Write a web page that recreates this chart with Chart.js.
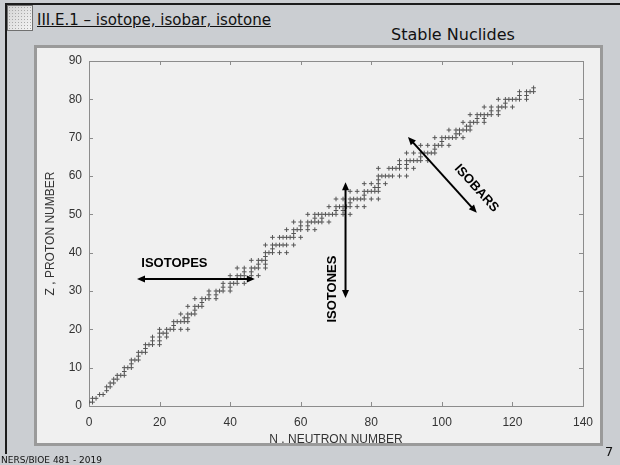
<!DOCTYPE html>
<html>
<head>
<meta charset="utf-8">
<title>Stable Nuclides</title>
<script src="https://cdn.jsdelivr.net/npm/chart.js@4"></script>
<style>
    body { margin: 0; width: 620px; height: 465px; background: #cbced2; position: relative; overflow: hidden; font-family: "DejaVu Sans", sans-serif; color: #111; }
    #frame { position: absolute; left: 5px; top: 3px; width: 620px; height: 449px; border-left: 2px solid #1c1c1c; border-top: 2px solid #1c1c1c; }
    #icon { position: absolute; left: 7px; top: 5px; width: 24px; height: 24px; border: 1px solid #707070;
        background: radial-gradient(circle, #a9a9a9 35%, transparent 45%) 0 0 / 3px 3px, linear-gradient(135deg, #d4d4d4, #f4f4f4); }
    #heading { position: absolute; left: 37px; top: 11px; font-size: 15px; text-decoration: underline; }
    #subtitle { position: absolute; left: 391px; top: 25px; font-size: 16px; }
    #panel { position: absolute; left: 34px; top: 45px; width: 569px; height: 401px; background: #f0f0f0; }
    #panelBorder { position: absolute; left: 34px; top: 45px; width: 563px; height: 395px; border: 3px solid #9a9a9a; }
    #chart { position: absolute; left: 0; top: 0; }
    #footer { position: absolute; left: 1px; top: 455px; font-size: 9px; }
    #pageNum { position: absolute; left: 605px; top: 444px; font-size: 13px; }
</style>
</head>
<body>
<div id="frame"></div>
<div id="icon"></div>
<div id="heading">III.E.1 – isotope, isobar, isotone</div>
<div id="subtitle">Stable Nuclides</div>
<div id="panel"></div>
<canvas id="chart" width="620" height="465"></canvas>
<div id="panelBorder"></div>
<div id="footer">NERS/BIOE 481 - 2019</div>
<div id="pageNum">7</div>
<script>
// Proton numbers that have stable nuclides (Tc and Pm have none)
const elementZ = [
    1, 2, 3, 4, 5, 6, 7, 8, 9, 10, 11, 12, 13, 14, 15, 16, 17, 18, 19, 20,
    21, 22, 23, 24, 25, 26, 27, 28, 29, 30, 31, 32, 33, 34, 35, 36, 37, 38, 39, 40,
    41, 42, 44, 45, 46, 47, 48, 49, 50, 51, 52, 53, 54, 55, 56, 57, 58, 59, 60,
    62, 63, 64, 65, 66, 67, 68, 69, 70, 71, 72, 73, 74, 75, 76, 77, 78, 79, 80,
    81, 82, 83
];

// Neutron numbers of the stable nuclides, one list per entry of elementZ
const stableNeutrons = [
    [0, 1], [1, 2], [3, 4], [5], [5, 6], [6, 7], [7, 8], [8, 9, 10], [10], [10, 11, 12],
    [12], [12, 13, 14], [14], [14, 15, 16], [16], [16, 17, 18, 20], [18, 20], [18, 20, 22],
    [20, 21, 22], [20, 22, 23, 24, 26, 28],
    [24], [24, 25, 26, 27, 28], [27, 28], [26, 28, 29, 30], [30], [28, 30, 31, 32], [32],
    [30, 32, 33, 34, 36], [34, 36], [34, 36, 37, 38, 40], [38, 40], [38, 40, 41, 42, 44], [42],
    [40, 42, 43, 44, 46, 48], [44, 46], [42, 44, 46, 47, 48, 50], [48, 50], [46, 48, 49, 50],
    [50], [50, 51, 52, 54, 56],
    [52], [50, 52, 53, 54, 55, 56, 58], [52, 54, 55, 56, 57, 58, 60], [58], [56, 58, 59, 60, 62, 64],
    [60, 62], [58, 60, 62, 63, 64, 65, 66, 68], [64, 66], [62, 64, 65, 66, 67, 68, 69, 70, 72, 74],
    [70, 72], [68, 70, 71, 72, 73, 74, 76, 78], [74], [70, 72, 74, 75, 76, 77, 78, 80, 82], [78],
    [74, 76, 78, 79, 80, 81, 82], [81, 82], [78, 80, 82, 84], [82], [82, 83, 84, 85, 86, 88, 90],
    [82, 85, 86, 87, 88, 90, 92], [88, 90], [88, 90, 91, 92, 93, 94, 96], [94], [90, 92, 94, 95, 96, 97, 98],
    [98], [94, 96, 98, 99, 100, 102], [100], [98, 100, 101, 102, 103, 104, 106], [104, 105],
    [102, 104, 105, 106, 107, 108], [107, 108], [106, 108, 109, 110, 112], [110, 112],
    [108, 110, 111, 112, 113, 114, 116], [114, 116], [112, 114, 116, 117, 118, 120], [118],
    [116, 118, 119, 120, 121, 122, 124],
    [122, 124], [122, 124, 125, 126], [126]
];

// Axis ticks
const neutronTicks = [0, 20, 40, 60, 80, 100, 120, 140];
const protonTicks = [0, 10, 20, 30, 40, 50, 60, 70, 80, 90];

// Arrow annotations, in (N, Z) data units
const arrowNames = ['ISOTOPES', 'ISOTONES', 'ISOBARS'];
const arrowFrom = [[13.6, 33.1], [72.7, 58.4], [90.4, 70.2]];
const arrowTo = [[47.0, 33.1], [72.7, 28.2], [109.9, 50.4]];
const arrowLabelAt = [[24.2, 37.2], [69.1, 30.5], [109.8, 56.8]];

const nuclides = elementZ.flatMap((z, i) => stableNeutrons[i].map(n => ({ x: n, y: z })));

const axisFont = { family: "'Liberation Sans', Arial, sans-serif", size: 12 };

function drawArrow(ctx, x1, y1, x2, y2) {
    const ang = Math.atan2(y2 - y1, x2 - x1);
    const head = 8, half = 3.5;
    ctx.beginPath();
    ctx.moveTo(x1 + Math.cos(ang) * head * 0.8, y1 + Math.sin(ang) * head * 0.8);
    ctx.lineTo(x2 - Math.cos(ang) * head * 0.8, y2 - Math.sin(ang) * head * 0.8);
    ctx.stroke();
    [[x2, y2, ang], [x1, y1, ang + Math.PI]].forEach(([px, py, a]) => {
        ctx.beginPath();
        ctx.moveTo(px, py);
        ctx.lineTo(px - Math.cos(a) * head - Math.sin(a) * half, py - Math.sin(a) * head + Math.cos(a) * half);
        ctx.lineTo(px - Math.cos(a) * head + Math.sin(a) * half, py - Math.sin(a) * head - Math.cos(a) * half);
        ctx.closePath();
        ctx.fill();
    });
}

const boxAndArrows = {
    id: 'boxAndArrows',
    beforeDatasetsDraw(chart) {
        const { ctx, chartArea: a, scales: { x, y } } = chart;
        ctx.save();
        ctx.strokeStyle = '#8c8c8c';
        ctx.lineWidth = 1;
        ctx.strokeRect(Math.round(a.left) + 0.5, Math.round(a.top) + 0.5,
            Math.round(a.right - a.left), Math.round(a.bottom - a.top));
        ctx.beginPath();
        x.ticks.forEach(t => {
            const px = Math.round(x.getPixelForValue(t.value)) + 0.5;
            ctx.moveTo(px, a.bottom); ctx.lineTo(px, a.bottom - 4);
            ctx.moveTo(px, a.top); ctx.lineTo(px, a.top + 4);
        });
        y.ticks.forEach(t => {
            const py = Math.round(y.getPixelForValue(t.value)) + 0.5;
            ctx.moveTo(a.left, py); ctx.lineTo(a.left + 4, py);
            ctx.moveTo(a.right, py); ctx.lineTo(a.right - 4, py);
        });
        ctx.stroke();
        ctx.restore();
    },
    afterDatasetsDraw(chart) {
        const { ctx, scales: { x, y } } = chart;
        ctx.save();
        ctx.strokeStyle = '#000';
        ctx.fillStyle = '#000';
        ctx.lineWidth = 2;
        arrowNames.forEach((name, i) => {
            const x1 = x.getPixelForValue(arrowFrom[i][0]), y1 = y.getPixelForValue(arrowFrom[i][1]);
            const x2 = x.getPixelForValue(arrowTo[i][0]), y2 = y.getPixelForValue(arrowTo[i][1]);
            drawArrow(ctx, x1, y1, x2, y2);

            // label: horizontal, vertical, or along the arrow
            let rot = 0;
            if (x1 === x2) rot = -Math.PI / 2;
            else if (y1 !== y2) rot = Math.atan2(y2 - y1, x2 - x1);
            ctx.save();
            ctx.translate(x.getPixelForValue(arrowLabelAt[i][0]), y.getPixelForValue(arrowLabelAt[i][1]));
            ctx.rotate(rot);
            ctx.font = "bold 13px 'Liberation Sans', Arial, sans-serif";
            ctx.textAlign = 'center';
            ctx.textBaseline = 'middle';
            ctx.fillText(name, 0, 0);
            ctx.restore();
        });
        ctx.restore();
    }
};

new Chart(document.getElementById('chart'), {
    type: 'scatter',
    data: {
        datasets: [{
            label: 'Stable nuclides',
            data: nuclides,
            pointStyle: 'cross',
            pointRadius: 2.3,
            borderColor: '#555',
            backgroundColor: '#555',
            borderWidth: 1
        }]
    },
    options: {
        responsive: false,
        animation: false,
        events: [],
        layout: { padding: { left: 39, right: 37, top: 61, bottom: 18 } },
        plugins: { legend: { display: false }, tooltip: { enabled: false } },
        scales: {
            x: {
                type: 'linear',
                min: neutronTicks[0],
                max: neutronTicks[neutronTicks.length - 1],
                afterBuildTicks: s => { s.ticks = neutronTicks.map(v => ({ value: v })); },
                afterFit: s => { s.height = 41; },
                grid: { display: false, drawTicks: false },
                border: { display: false },
                ticks: { padding: 9, color: '#333', font: axisFont, maxRotation: 0 },
                title: { display: true, text: 'N , NEUTRON NUMBER', color: '#333', font: axisFont, padding: 0 }
            },
            y: {
                type: 'linear',
                min: protonTicks[0],
                max: protonTicks[protonTicks.length - 1],
                afterBuildTicks: s => { s.ticks = protonTicks.map(v => ({ value: v })); },
                afterFit: s => { s.width = 50; },
                grid: { display: false, drawTicks: false },
                border: { display: false },
                ticks: { padding: 7, color: '#333', font: axisFont },
                title: { display: true, text: 'Z , PROTON NUMBER', color: '#333', font: axisFont, padding: { top: 4, bottom: 0 } }
            }
        }
    },
    plugins: [boxAndArrows]
});
</script>
</body>
</html>
